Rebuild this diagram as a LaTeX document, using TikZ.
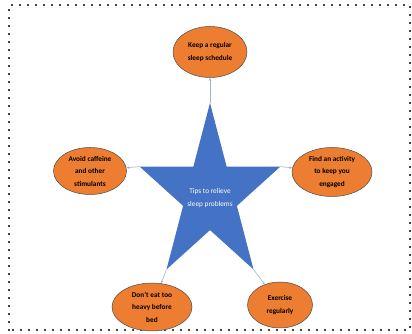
\documentclass[tikz,border=0pt]{standalone}
\usepackage{fontspec}
\setmainfont{Carlito}
\usetikzlibrary{shapes.geometric,arrows.meta}

\definecolor{tiporange}{RGB}{237,125,49}
\definecolor{starblue}{RGB}{68,114,196}
\definecolor{linkgray}{RGB}{160,178,205}

\tikzset{
  tip/.style={ellipse, draw=black!70, line width=0.5pt, fill=tiporange, inner sep=0pt,
    align=center, font=\bfseries\fontsize{7.3}{12.5}\selectfont},
  link/.style={draw=linkgray, line width=0.6pt, -{Stealth[length=3pt,width=2.5pt]}},
}

\begin{document}
\begin{tikzpicture}[x=1pt,y=1pt]
        \useasboundingbox (0,0) rectangle (412,334);
        \draw[line width=2.3pt, dash pattern=on 0pt off 8pt, line cap=round] (9,4) rectangle (410,329);

        % star in the middle
        \fill[starblue] (210,139) +(90:74 and 92) -- +(54:28.3 and 35.1) -- +(18:74 and 92)
            -- +(-18:28.3 and 35.1) -- +(-54:74 and 92) -- +(-90:28.3 and 35.1)
            -- +(-126:74 and 92) -- +(-162:28.3 and 35.1) -- +(162:74 and 92)
            -- +(126:28.3 and 35.1) -- cycle;
        \coordinate (tT) at (210,231);
        \coordinate (tR) at (280.4,167.4);
        \coordinate (tL) at (139.6,167.4);
        \coordinate (tBL) at (166.5,64.6);
        \coordinate (tBR) at (253.5,64.6);
        \node[text=white, align=center, font=\fontsize{7.3}{12.5}\selectfont] (center) at (210,136) {Tips to relieve\\sleep problems};

        % the five tips
        \node[tip, minimum width=74pt, minimum height=51pt] (sched) at (210,282) {Keep a regular\\sleep schedule};
        \node[tip, minimum width=73pt, minimum height=47pt] (caff) at (90,163) {Avoid caffeine\\and other\\stimulants};
        \node[tip, minimum width=80pt, minimum height=49pt] (activ) at (332,162) {Find an activity\\to keep you\\engaged};
        \node[tip, minimum width=80pt, minimum height=48pt] (heavy) at (152,27) {Don't eat too\\heavy before\\bed};
        \node[tip, minimum width=65pt, minimum height=46pt] (exer) at (280,29) {Exercise\\regularly};

        \draw[link] (tT) -- (sched);
        \draw[link] (tL) -- (caff);
        \draw[link] (tR) -- (activ);
        \draw[link] (tBL) -- (heavy);
        \draw[link] (tBR) -- (exer);
\end{tikzpicture}
\end{document}
